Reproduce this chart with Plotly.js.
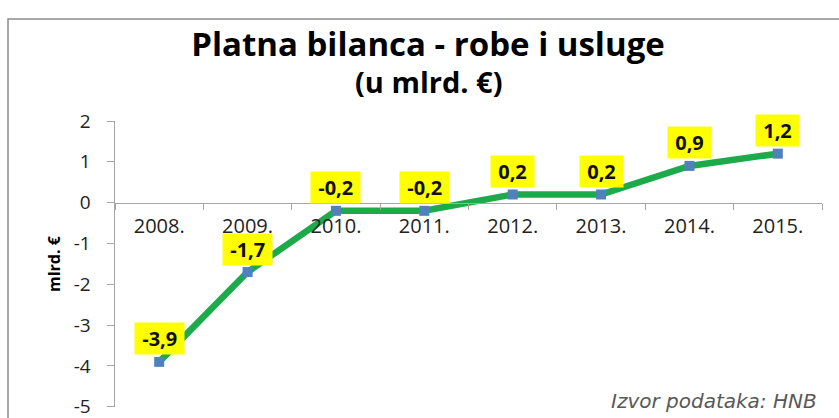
<!DOCTYPE html>
<html>
<head>
<meta charset="utf-8">
<script src="https://cdn.plot.ly/plotly-3.0.1.min.js"></script>
<style>html,body{margin:0;padding:0;background:#fff;}#chart{width:839px;height:418px;}</style>
</head>
<body>
<div id="chart"></div>
<script>
const years = ['2008.', '2009.', '2010.', '2011.', '2012.', '2013.', '2014.', '2015.'];
const balance = [-3.9, -1.7, -0.2, -0.2, 0.2, 0.2, 0.9, 1.2];
const labels = ['-3,9', '-1,7', '-0,2', '-0,2', '0,2', '0,2', '0,9', '1,2'];
const yTicks = [2, 1, 0, -1, -2, -3, -4, -5];
const yTickText = ['2', '1', '0', '-1', '-2', '-3', '-4', '-5'];

const W = 839, H = 418;
const m = {l: 115, r: 17, t: 121, b: 11};
const pw = W - m.l - m.r, ph = H - m.t - m.b;
const px = x => (x - m.l) / pw;
const py = y => (H - m.b - y) / ph;

const trace = {
  x: years, y: balance, type: 'scatter', mode: 'lines+markers',
  line: {color: '#1DAA4B', width: 6.5},
  marker: {symbol: 'square', size: 10, color: '#4F81BD'},
  hoverinfo: 'skip', cliponaxis: false
};

const annotations = years.map((yr, i) => ({
  x: i, y: balance[i], xref: 'x', yref: 'y',
  text: '&nbsp;<b>' + labels[i] + '</b>&nbsp;', showarrow: false,
  yshift: 23, bgcolor: '#FFFF00', borderpad: 2,
  font: {family: 'Open Sans, sans-serif', size: 20, color: '#111'}
}));
annotations.push({
  xref: 'paper', yref: 'paper', x: px(428), y: py(81), yanchor: 'middle', xanchor: 'center',
  text: '<b>(u mlrd. €)</b>', showarrow: false,
  font: {family: 'Open Sans, sans-serif', size: 29, color: '#000'}
});
annotations.push({
  xref: 'paper', yref: 'paper', x: px(54), y: py(264), textangle: -90,
  xanchor: 'center', yanchor: 'middle',
  text: '<b>mlrd. €</b>', showarrow: false,
  font: {family: 'Open Sans, sans-serif', size: 16, color: '#000'}
});
annotations.push({
  xref: 'paper', yref: 'paper', x: px(819), y: py(401), xanchor: 'right', yanchor: 'middle',
  text: '<i>Izvor podataka: HNB</i>', showarrow: false,
  font: {family: 'DejaVu Sans, sans-serif', size: 20, color: '#595959'}
});

const layout = {
  width: W, height: H, margin: m,
  paper_bgcolor: '#fff', plot_bgcolor: '#fff', showlegend: false,
  title: {
    text: '<b>Platna bilanca - robe i usluge</b>',
    x: 428 / W, xanchor: 'center', xref: 'container',
    y: 1 - 44 / H, yanchor: 'middle', yref: 'container',
    font: {family: 'Open Sans, sans-serif', size: 33, color: '#000'}
  },
  xaxis: {
    type: 'category', range: [-0.5, 7.5], anchor: 'free', position: 5 / 7,
    showline: true, linecolor: '#A6A6A6', linewidth: 1.5,
    ticks: 'outside', tickson: 'boundaries', ticklen: 6, tickcolor: '#A6A6A6',
    ticklabelstandoff: 5,
    showgrid: false, zeroline: false, fixedrange: true,
    tickfont: {family: 'Open Sans, sans-serif', size: 20, color: '#222'}
  },
  yaxis: {
    range: [-5.005, 2], tickvals: yTicks, ticktext: yTickText,
    showline: true, linecolor: '#A6A6A6', linewidth: 1.5,
    ticks: 'outside', ticklen: 7, tickcolor: '#A6A6A6',
    ticklabelstandoff: 12, ticklabeloverflow: 'allow',
    showgrid: false, zeroline: false, fixedrange: true,
    tickfont: {family: 'Open Sans, sans-serif', size: 19, color: '#222'}
  },
  shapes: [{
    type: 'rect', xref: 'paper', yref: 'paper',
    x0: px(8), x1: px(880), y0: py(450), y1: py(19),
    line: {color: '#8C8C8C', width: 1.5}, fillcolor: 'rgba(0,0,0,0)', layer: 'below'
  }],
  annotations: annotations
};

Plotly.newPlot('chart', [trace], layout, {displayModeBar: false, staticPlot: true});
</script>
</body>
</html>
